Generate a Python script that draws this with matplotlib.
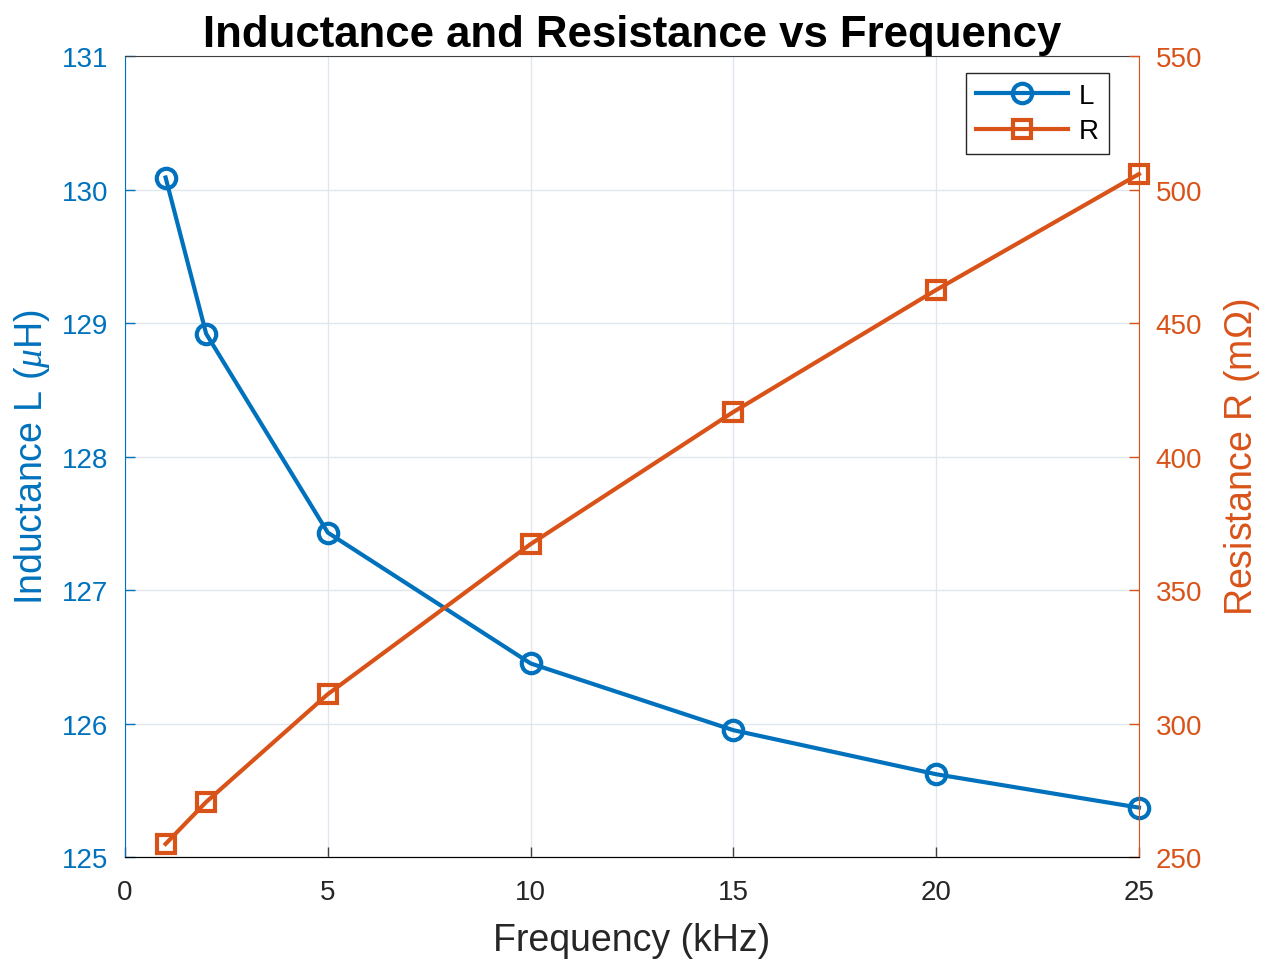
import matplotlib
matplotlib.use("Agg")
import matplotlib.pyplot as plt

plt.rcParams['font.family'] = ['Liberation Sans', 'DejaVu Sans']
plt.rcParams['mathtext.fontset'] = 'custom'
plt.rcParams['mathtext.it'] = 'Liberation Serif:italic'
plt.rcParams['mathtext.rm'] = 'Liberation Sans'
plt.rcParams['xtick.direction'] = 'in'
plt.rcParams['ytick.direction'] = 'in'

freq_khz = [1, 2, 5, 10, 15, 20, 25]
inductance_uH = [130.09, 128.92, 127.43, 126.45, 125.95, 125.62, 125.37]
resistance_mohm = [254.9, 270.6, 311.0, 367.2, 416.7, 462.4, 505.8]

blue = '#0072BD'
orange = '#D95319'
axis_gray = '#404040'

fig = plt.figure(figsize=(12.72, 9.62), dpi=100)
ax = fig.add_axes([0.0983, 0.1081, 0.7971, 0.8326])
ax2 = ax.twinx()

lL, = ax.plot(freq_khz, inductance_uH, '-o', color=blue, lw=3, ms=14,
              mfc='none', mew=3, label='L', clip_on=False, zorder=3)
lR, = ax2.plot(freq_khz, resistance_mohm, '-s', color=orange, lw=3, ms=13,
               mfc='none', mew=3, label='R', clip_on=False, zorder=3)

ax.set_xlim(0, 25)
ax.set_ylim(125, 131)
ax2.set_ylim(250, 550)
ax.set_xticks([0, 5, 10, 15, 20, 25])
ax.set_yticks(range(125, 132))
ax2.set_yticks(range(250, 551, 50))

ax.grid(True, color='#dfe6ee', lw=1)
ax.set_axisbelow(True)

ax2.spines['top'].set_visible(False)
ax.spines['top'].set_color(axis_gray)
ax.spines['left'].set_color(blue)
ax.spines['right'].set_visible(False)
ax2.spines['left'].set_visible(False)
ax2.spines['right'].set_color(orange)
ax.spines['bottom'].set_color(axis_gray)

ax.tick_params(axis='y', direction='in', colors=blue, labelsize=20,
               length=7, width=1, pad=12)
ax.tick_params(axis='x', direction='in', colors='#262626', labelsize=20,
               length=7, width=1, pad=16)
ax.tick_params(axis='x', color=axis_gray)
ax2.tick_params(axis='y', direction='in', colors=orange, labelsize=20,
                length=7, width=1, pad=12)

ax.set_xlabel('Frequency (kHz)', fontsize=27, color='#262626', labelpad=12)
ax.set_ylabel(r'Inductance L ($\mu$H)', fontsize=27, color=blue, labelpad=7)
ax2.set_ylabel(r'Resistance R (m$\Omega$)', fontsize=27, color=orange,
               labelpad=14)
ax.set_title('Inductance and Resistance vs Frequency', fontsize=31.5,
             fontweight='bold', pad=7)

leg = ax.legend(handles=[lL, lR], loc='upper right', fontsize=20,
                bbox_to_anchor=(0.97, 0.979), fancybox=False, framealpha=1,
                edgecolor='#262626', handlelength=3.3, handletextpad=0.4,
                borderpad=0.35, labelspacing=0.35, borderaxespad=0)
leg.get_frame().set_linewidth(1)
leg.set_zorder(10)

fig.savefig('out.png', dpi=100)
